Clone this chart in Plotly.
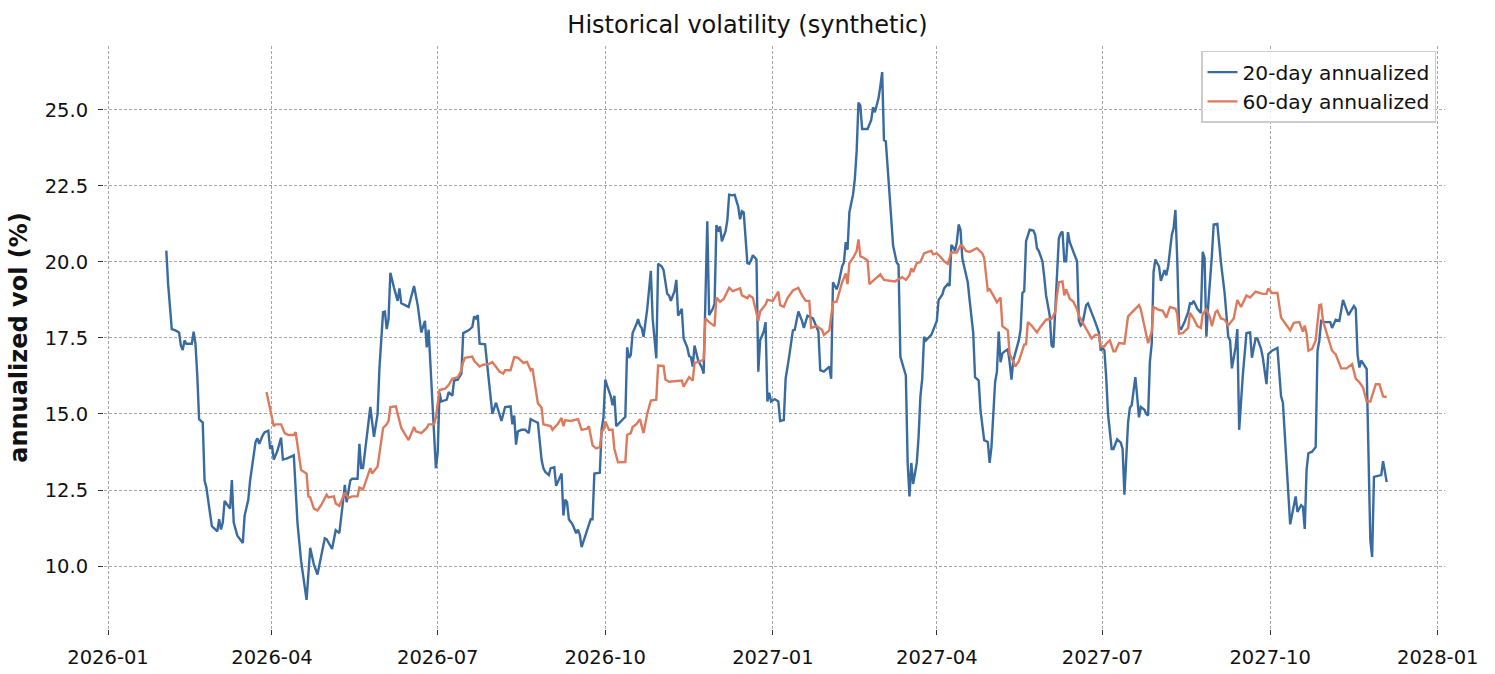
import pandas as pd
import plotly.graph_objects as go

start_date = "2026-01-01"

# (day offset from start_date, annualized vol %)
vol20_points = [
(32,20.37),(33,19.27),(35,17.79),(37,17.75),(39,17.68),(40,17.25),(41,17.10),(42,17.42),(43,17.31),(46,17.31),
(47,17.71),(48,17.31),(49,16.27),(50,14.83),(52,14.72),(53,12.81),(54,12.58),(57,11.31),(60,11.14),(61,11.54),
(62,11.20),(63,11.43),(64,12.14),(65,12.06),(67,11.89),(68,12.83),(69,11.43),(71,11.00),(74,10.76),(75,11.66),
(77,12.18),(78,12.81),(81,14.08),(82,14.20),(83,14.02),(85,14.31),(86,14.40),(88,14.45),(89,13.85),(90,13.97),
(91,13.50),(93,13.79),(95,14.22),(96,13.50),(98,13.53),(102,13.64),(104,11.43),(106,10.16),(109,8.89),(111,10.60),
(113,10.05),(115,9.72),(119,10.91),(120,10.88),(123,10.56),(125,11.18),(127,11.08),(129,12.12),(130,12.67),(131,12.10),
(133,12.81),(134,12.87),(137,12.87),(138,14.02),(139,13.22),(140,13.22),(142,14.20),(144,15.23),(146,14.25),(148,15.00),
(149,16.50),(151,18.35),(152,18.37),(153,17.79),(154,18.12),(155,19.64),(157,19.15),(159,18.72),(160,19.13),(161,18.64),
(165,18.52),(168,19.21),(170,18.58),(172,17.68),(174,18.06),(175,17.19),(176,17.77),(178,15.70),(180,13.22),(181,13.74),
(182,15.70),(183,15.41),(186,15.47),(187,15.72),(189,15.60),(190,16.10),(192,16.13),(194,16.33),(195,17.66),(198,17.75),
(200,17.86),(201,18.21),(202,18.14),(203,18.25),(204,17.31),(207,17.29),(208,16.73),(210,15.70),(211,15.00),(213,15.37),
(215,15.00),(216,14.77),(218,15.23),(221,15.25),(222,14.66),(223,14.95),(224,13.99),(225,14.43),(227,14.48),(229,14.48),
(231,14.37),(232,14.83),(234,14.77),(236,14.71),(238,13.50),(239,13.22),(240,13.10),(242,12.99),(243,13.22),(245,13.25),
(246,12.64),(249,13.04),(250,11.66),(251,12.18),(252,12.10),(253,11.54),(255,11.37),(257,11.08),(258,11.20),(259,11.03),
(260,10.62),(263,11.14),(265,11.54),(266,11.54),(267,13.04),(270,13.07),(271,14.50),(272,14.89),(273,16.13),(274,15.93),
(276,15.58),(277,15.29),(278,15.60),(279,14.60),(281,14.72),(284,14.91),(285,17.19),(286,16.85),(287,16.94),(288,17.66),
(290,17.94),(291,18.12),(292,17.91),(293,17.83),(294,17.54),(296,18.44),(298,19.71),(299,18.14),(301,16.83),(302,19.94),
(304,19.85),(305,19.73),(307,18.95),(308,18.90),(309,18.72),(311,19.04),(312,19.41),(313,18.23),(315,18.46),(316,17.48),
(318,17.19),(319,16.91),(320,16.87),(321,16.56),(322,17.25),(324,16.76),(326,16.53),(327,16.33),(329,21.34),(330,18.25),
(332,18.46),(333,18.64),(334,21.21),(335,21.00),(336,21.17),(337,20.68),(339,21.00),(340,21.37),(341,22.21),(343,22.19),
(344,22.21),(346,21.81),(347,21.40),(348,21.67),(349,21.63),(351,19.96),(352,19.94),(353,20.05),(354,20.22),(356,20.08),
(357,16.39),(358,17.42),(360,17.71),(361,18.02),(362,15.41),(363,15.70),(364,15.41),(366,15.49),(368,15.41),(369,14.77),
(371,14.80),(372,16.16),(374,16.91),(376,17.75),(377,17.77),(379,18.37),(381,18.06),(382,17.83),(384,18.23),(387,18.14),
(388,18.00),(390,17.71),(391,16.44),(393,16.39),(396,16.56),(397,16.16),(398,19.33),(400,19.10),(401,19.27),(403,19.85),
(404,19.98),(405,20.65),(406,20.40),(407,21.63),(408,21.92),(409,22.21),(410,22.73),(411,23.65),(412,25.24),(413,25.15),
(414,24.37),(417,24.37),(419,24.67),(420,25.09),(421,24.92),(423,25.38),(424,25.78),(425,26.24),(426,24.00),(427,23.97),
(429,22.27),(431,20.54),(433,19.98),(434,19.90),(435,16.88),(438,16.27),(439,13.39),(440,12.29),(441,13.39),(442,12.70),
(444,13.39),(445,14.25),(446,15.58),(447,16.16),(448,17.54),(449,17.42),(452,17.60),(453,17.77),(455,18.06),(456,18.75),
(458,18.92),(459,19.13),(461,19.27),(462,19.21),(463,20.56),(464,20.48),(465,20.36),(466,20.65),(467,21.23),(468,21.06),
(469,20.13),(470,19.85),(472,19.33),(473,18.75),(475,17.66),(476,16.21),(478,16.10),(479,15.12),(481,14.14),(483,14.08),
(484,13.39),(485,13.91),(486,15.06),(487,16.04),(488,16.39),(489,17.71),(490,16.70),(491,16.99),(492,17.05),(494,17.13),
(495,16.70),(496,16.13),(497,16.76),(498,16.99),(500,17.42),(501,17.77),(502,18.98),(503,19.04),(504,20.68),(506,21.06),
(508,21.03),(509,20.89),(510,20.45),(511,20.36),(513,20.02),(514,19.50),(515,18.90),(517,18.23),(518,17.25),(519,17.19),
(520,18.35),(522,20.77),(523,20.94),(524,21.00),(525,20.02),(526,20.02),(527,20.98),(528,20.65),(530,20.33),(532,20.02),
(533,18.06),(534,17.91),(535,17.98),(537,18.58),(538,18.64),(540,18.35),(542,18.02),(544,17.68),(545,17.08),(546,17.17),
(547,17.10),(548,16.21),(549,15.00),(551,13.85),(552,13.85),(554,14.17),(556,14.06),(557,13.85),(558,12.35),(560,14.72),
(561,15.21),(562,15.29),(564,16.21),(565,15.58),(566,14.89),(567,15.23),(569,15.14),(570,15.00),(571,14.95),(572,16.73),
(573,17.31),(574,19.67),(575,20.08),(577,19.85),(578,19.38),(580,19.73),(581,19.56),(582,19.85),(583,20.48),(584,20.88),
(585,21.11),(586,21.71),(587,20.08),(588,17.89),(589,17.77),(591,18.02),(593,18.35),(594,18.64),(595,18.62),(596,18.72),
(598,18.46),(600,18.32),(601,20.33),(602,20.13),(603,17.54),(604,18.58),(606,20.19),(607,21.23),(609,21.25),(611,19.98),
(613,18.98),(615,17.54),(616,17.42),(617,16.50),(619,17.19),(620,17.79),(621,14.48),(623,16.27),(625,17.66),(627,17.68),
(628,16.85),(630,17.48),(631,17.48),(633,17.14),(634,16.85),(636,15.98),(637,16.97),(639,17.08),(642,17.17),(644,15.58),
(645,15.37),(647,13.39),(649,11.37),(652,12.29),(653,11.78),(655,12.00),(656,11.95),(657,11.22),(658,13.16),(659,13.71),
(661,13.76),(663,13.91),(664,17.08),(665,17.42),(666,18.06),(668,18.02),(671,18.02),(672,17.83),(674,18.10),(676,18.06),
(678,18.75),(681,18.25),(684,18.55),(685,18.46),(686,16.96),(687,16.53),(688,16.76),(691,16.48),(692,14.08),(693,10.85),
(694,10.30),(695,12.93),(696,12.95),(699,12.99),(700,13.45),(702,12.76),
]

vol60_points = [
(87,15.72),(91,14.60),(92,14.66),(95,14.66),(97,14.37),(99,14.31),(102,14.31),(103,14.40),(106,13.16),(109,13.04),
(110,12.29),(111,12.26),(113,11.89),(115,11.83),(117,12.00),(120,12.35),(121,12.26),(124,12.29),(125,12.06),(127,11.98),
(130,12.41),(132,12.24),(134,12.29),(137,12.29),(138,12.58),(140,12.52),(144,13.22),(145,13.04),(148,13.27),(151,14.54),
(153,14.66),(154,14.77),(155,15.23),(158,15.25),(161,14.54),(165,14.14),(168,14.57),(169,14.43),(172,14.37),(175,14.54),
(176,14.66),(179,14.66),(180,14.89),(182,15.79),(185,15.83),(187,15.95),(189,16.16),(192,16.21),(194,16.44),(195,16.71),
(196,16.85),(200,16.89),(201,16.75),(204,16.56),(206,16.62),(209,16.64),(211,16.71),(213,16.56),(215,16.39),(217,16.33),
(218,16.44),(221,16.44),(223,16.87),(225,16.85),(228,16.68),(230,16.71),(232,16.44),(233,16.50),(236,15.35),(238,15.21),
(239,14.66),(243,14.60),(244,14.48),(247,14.68),(249,14.87),(250,14.60),(251,14.79),(254,14.77),(258,14.83),(260,14.48),
(263,14.52),(264,14.60),(266,13.97),(268,13.87),(270,13.91),(271,14.43),(272,14.48),(273,14.75),(275,14.48),(277,14.48),
(278,13.85),(280,13.41),(284,13.42),(285,14.31),(287,14.37),(288,14.57),(290,14.66),(292,14.83),(294,14.37),(296,15.00),
(298,15.44),(301,15.47),(302,16.59),(305,16.58),(306,16.13),(308,16.06),(315,16.10),(316,15.90),(319,16.21),(321,16.10),
(322,16.68),(325,16.73),(327,16.79),(328,18.14),(330,18.02),(333,17.89),(334,18.83),(336,18.69),(338,18.78),(341,19.15),
(343,19.04),(347,19.13),(348,18.90),(351,18.81),(352,18.90),(354,18.82),(356,18.35),(357,18.06),(358,18.37),(361,18.60),
(362,18.75),(365,18.72),(368,19.02),(369,18.58),(371,18.52),(373,18.81),(376,19.06),(379,19.15),(381,18.90),(383,18.72),
(385,18.72),(386,17.83),(389,17.89),(392,17.77),(393,17.60),(396,17.75),(398,18.67),(400,18.69),(403,19.33),(405,19.62),
(406,19.27),(407,19.96),(409,20.13),(411,20.36),(412,20.74),(413,20.19),(415,20.13),(417,20.05),(418,19.27),(421,19.44),
(424,19.59),(426,19.41),(429,19.38),(432,19.36),(436,19.50),(438,19.41),(440,19.56),(441,19.79),(442,19.67),(444,19.96),
(446,20.00),(448,20.28),(450,20.33),(452,20.36),(453,20.25),(455,20.28),(457,20.17),(459,20.02),(461,19.94),(463,20.31),
(466,20.31),(468,20.54),(469,20.54),(471,20.36),(473,20.33),(475,20.40),(477,20.45),(480,20.28),(481,20.13),(483,19.06),
(484,19.10),(486,18.90),(488,18.67),(490,18.83),(491,17.89),(494,17.75),(495,16.96),(497,16.73),(498,16.56),(500,16.73),
(501,16.91),(503,17.29),(504,17.29),(505,18.02),(507,17.91),(510,17.68),(512,17.87),(515,18.10),(518,18.13),(520,18.35),
(521,18.90),(522,19.33),(524,19.36),(525,18.90),(526,19.10),(528,18.79),(530,18.69),(532,18.44),(533,18.23),(535,18.02),
(537,17.77),(540,17.48),(542,17.60),(544,17.60),(545,17.22),(547,17.22),(548,17.31),(550,17.42),(552,17.06),(553,17.06),
(555,17.33),(558,17.31),(560,18.21),(563,18.40),(566,18.58),(567,18.44),(570,17.64),(571,17.33),(573,17.71),(574,18.52),
(577,18.42),(579,18.40),(581,18.17),(583,18.52),(586,18.46),(587,18.29),(588,17.64),(590,17.66),(593,17.83),(594,18.32),
(596,18.14),(598,17.89),(600,17.83),(601,18.29),(603,18.44),(605,18.17),(606,17.89),(608,18.35),(609,18.40),(611,18.14),
(613,18.10),(615,17.91),(618,18.14),(620,18.75),(622,18.52),(625,18.90),(627,18.83),(630,19.02),(634,18.95),(636,18.95),
(637,19.13),(639,18.98),(642,18.98),(644,18.17),(646,18.00),(649,17.75),(651,18.00),(654,18.02),(656,17.71),(657,17.91),
(658,17.64),(659,17.08),(661,17.14),(663,17.42),(665,18.58),(666,18.60),(667,18.06),(670,17.42),(672,17.08),(674,16.96),
(677,16.50),(680,16.50),(683,16.64),(685,16.16),(687,16.04),(689,15.87),(691,15.41),(693,15.41),(696,15.98),(698,15.98),
(700,15.58),(702,15.56),
]

days20 = [d for d, _ in vol20_points]
vol20 = [v for _, v in vol20_points]
days60 = [d for d, _ in vol60_points]
vol60 = [v for _, v in vol60_points]

x_ticks = ["2026-01-01", "2026-04-01", "2026-07-01", "2026-10-01", "2027-01-01",
           "2027-04-01", "2027-07-01", "2027-10-01", "2028-01-01"]
x_tick_labels = ["2026-01", "2026-04", "2026-07", "2026-10", "2027-01",
                 "2027-04", "2027-07", "2027-10", "2028-01"]
y_ticks = [10.0, 12.5, 15.0, 17.5, 20.0, 22.5, 25.0]

base = pd.Timestamp(start_date)
dates20 = base + pd.to_timedelta(days20, unit="D")
dates60 = base + pd.to_timedelta(days60, unit="D")

fig = go.Figure()
fig.add_trace(go.Scatter(x=dates20, y=vol20, mode="lines", name="20-day annualized",
                         line=dict(color="#3a6ba0", width=2.4)))
fig.add_trace(go.Scatter(x=dates60, y=vol60, mode="lines", name="60-day annualized",
                         line=dict(color="#dd7a5e", width=2.4)))

font_family = "DejaVu Sans, Arial, sans-serif"
grid_style = dict(showgrid=True, gridcolor="#a6a6a6", gridwidth=0.8, griddash="3px,2px",
                  showline=False, zeroline=False, ticks="outside", ticklen=5,
                  tickwidth=1.3, tickcolor="#333333", ticklabelstandoff=6,
                  automargin=False,
                  tickfont=dict(size=19.5, color="#111111"))

fig.update_layout(
    width=1495, height=674,
    margin=dict(l=104, r=50, t=46, b=45),
    paper_bgcolor="white", plot_bgcolor="white",
    font=dict(family=font_family, size=19.5, color="#111111"),
    title=dict(text="Historical volatility (synthetic)", x=0.5, xanchor="center",
               y=1 - 25 / 674, yanchor="middle", yref="container",
               font=dict(size=24, color="#111111")),
    showlegend=True,
    legend=dict(x=0.9933, y=0.9915, xanchor="right", yanchor="top",
                bgcolor="rgba(255,255,255,0.85)", bordercolor="#cccccc", borderwidth=1.5,
                font=dict(size=20.2, color="#111111")),
)
fig.update_xaxes(range=["2025-12-29 19:00", "2028-01-05"],
                 tickvals=x_ticks, ticktext=x_tick_labels, **grid_style)
fig.update_yaxes(range=[7.93, 27.1],
                 tickvals=y_ticks, ticktext=[f"{v:.1f}" for v in y_ticks], **grid_style,
                 title=dict(text="<b>annualized vol (%)</b>",
                            font=dict(size=24, color="#111111"), standoff=10))

fig.write_html("out.html")
